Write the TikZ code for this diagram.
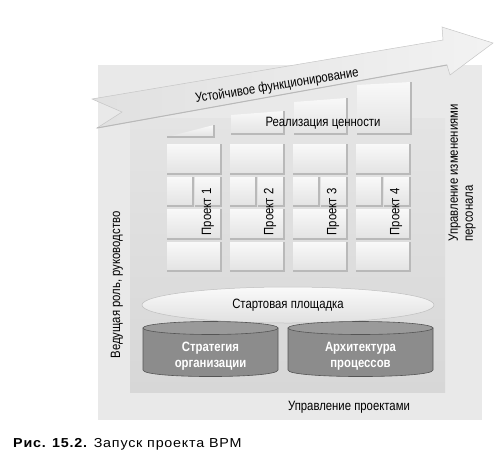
\documentclass[tikz,border=0pt]{standalone}
\usepackage{fontspec}
\setmainfont[FakeStretch=0.84]{Liberation Sans}
\newfontfamily\capfont[FakeStretch=1.1, LetterSpace=6]{Liberation Sans}
\usepackage{tikz}
\usetikzlibrary{shapes.geometric}
\definecolor{outerbg}{HTML}{E9E9E9}
\definecolor{innertop}{HTML}{E4E4E4}
\definecolor{innerbot}{HTML}{D7D7D7}
\definecolor{drumbody}{HTML}{8C8C8C}
\definecolor{drumtop}{HTML}{9A9A9A}
\definecolor{drumline}{HTML}{555555}
\tikzset{
    brick/.style={top color=gray!5, bottom color=gray!22},
    brickedge/.style={draw=gray!55, line width=1.1pt},
    txt/.style={font=\fontsize{13.5}{15}\selectfont, inner sep=0pt},
    drumtext/.style={font=\fontsize{13.5}{16}\selectfont\bfseries, text=white, align=center, inner sep=0pt},
}
% one brick: left x, top y, width, height
\newcommand{\wallbrick}[4]{%
    \shade[brick] (#1,#2) rectangle ++(#3,#4);
    \draw[brickedge] (#1,{#2+#4}) -- ++(#3,0) -- ++(0,-#4);
}
% one drum: left x, right x
\newcommand{\drum}[2]{%
    \filldraw[fill=drumbody, draw=drumline, line width=0.6pt] (#1,328) -- (#1,370)
        .. controls (#1,378.7) and (#2,378.7) .. (#2,370) -- (#2,328) -- cycle;
    \filldraw[fill=drumtop, draw=drumline, line width=0.6pt] ({(#1+#2)/2},328) ellipse [x radius={(#2-#1)/2*1pt}, y radius=6.5pt];
}

\begin{document}
\begin{tikzpicture}[x=1pt, y=-1pt]
    \useasboundingbox (0,0) rectangle (500,461);
    \fill[outerbg] (98,65) rectangle (482,420);
    \shade[top color=innertop, bottom color=innerbot] (130,118) rectangle (445,392);
    % the wall
    \foreach \x in {167,230,293,356}{
        \wallbrick{\x}{144}{54}{30}
        \wallbrick{\x}{177}{26}{29}
        \wallbrick{\x+28}{177}{26}{29}
        \wallbrick{\x}{209}{54}{30}
        \wallbrick{\x}{242}{54}{29}
    }
    % rising top row
    \shade[brick] (167,137) -- (214,125) -- (214,137) -- cycle;
    \draw[brickedge] (167,137) -- (214,137) -- (214,125);
    \shade[brick] (231,115) -- (284,111) -- (284,134) -- (231,134) -- cycle;
    \draw[brickedge] (231,134) -- (284,134) -- (284,111);
    \shade[brick] (294,102) -- (347,98) -- (347,134) -- (294,134) -- cycle;
    \draw[brickedge] (294,134) -- (347,134) -- (347,98);
    \shade[brick] (357,85) -- (411,82) -- (411,134) -- (357,134) -- cycle;
    \draw[brickedge] (357,134) -- (411,134) -- (411,82);
    % arrow
    \shade[left color=gray!24, right color=gray!10, draw=gray!45, line width=0.5pt]
        (92,99) -- (443,40) -- (442,27) -- (493,43) -- (450,75) -- (447,65)
        -- (97,128) -- (122,112) -- cycle;
    \draw[gray!55, line width=1pt] (97,128) -- (447,65);
    \node[txt, rotate=9.3] (steady) at (277,86) {Устойчивое функционирование};
    \node[txt] (value) at (323,123) {Реализация ценности};
    \foreach \i/\x in {1/208,2/270,3/333,4/396}
        \node[txt, rotate=90] (proj\i) at (\x,212) {Проект \i};
    % launch pad and drums
    \node[ellipse, minimum width=292pt, minimum height=36pt, top color=gray!4,
        bottom color=gray!24, draw=gray!50, line width=0.5pt, txt] (launchpad) at (288,305) {Стартовая площадка};
    \drum{143}{278}
    \drum{288}{433}
    \node[drumtext] (strategy) at (210.5,356) {Стратегия\\организации};
    \node[drumtext] (architecture) at (360.5,356) {Архитектура\\процессов};
    % side texts
    \node[txt, rotate=90] (lead) at (117,285) {Ведущая роль, руководство};
    \node[txt, rotate=90, align=left] (change) at (462,173) {Управление изменениями\\персонала};
    \node[txt] (pm) at (349,407) {Управление проектами};
    \node[anchor=base west, inner sep=0pt, font=\capfont\fontsize{13}{16}\selectfont] (caption) at (13,447)
        {\textbf{Рис. 15.2.}\hspace{6pt}Запуск проекта BPM};
\end{tikzpicture}
\end{document}
